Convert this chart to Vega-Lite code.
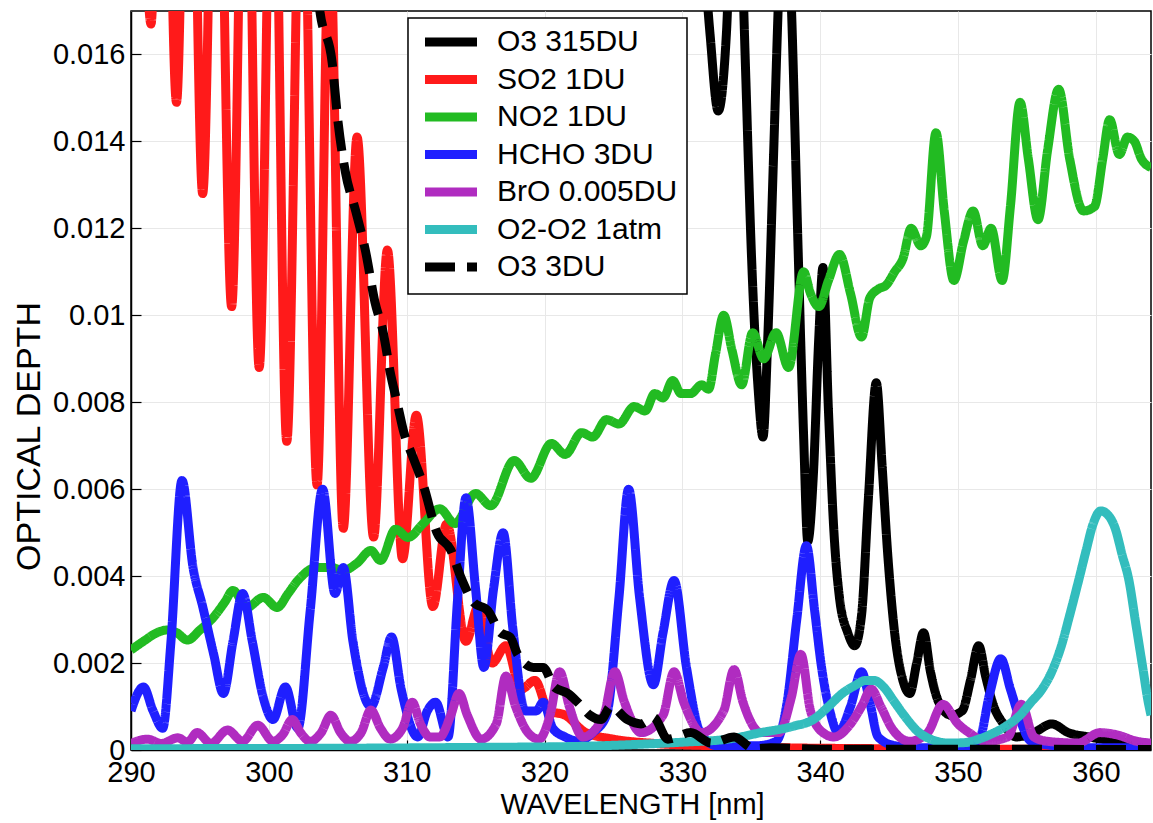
{
"$schema":"https://vega.github.io/schema/vega-lite/v6.json",
"width":1020,"height":739,
"autosize":{"type":"none"},
"padding":{"left":131,"top":11,"right":2,"bottom":73},
"data":{"values":[
{"s":"O3 315DU","x":290,"y":0.5},{"s":"O3 315DU","x":300,"y":0.2},{"s":"O3 315DU","x":310,"y":0.09},{"s":"O3 315DU","x":320,"y":0.045},{"s":"O3 315DU","x":326,"y":0.03},{"s":"O3 315DU","x":330,"y":0.022},{"s":"O3 315DU","x":331.5,"y":0.0185},{"s":"O3 315DU","x":332.0,"y":0.0165},{"s":"O3 315DU","x":332.6,"y":0.0147},{"s":"O3 315DU","x":333.2,"y":0.0165},{"s":"O3 315DU","x":333.8,"y":0.0215},{"s":"O3 315DU","x":334.2,"y":0.0195},{"s":"O3 315DU","x":334.6,"y":0.0155},{"s":"O3 315DU","x":335.0,"y":0.0115},{"s":"O3 315DU","x":335.5,"y":0.0083},{"s":"O3 315DU","x":335.85,"y":0.0072},{"s":"O3 315DU","x":336.2,"y":0.0095},{"s":"O3 315DU","x":336.6,"y":0.0135},{"s":"O3 315DU","x":337.0,"y":0.0175},{"s":"O3 315DU","x":337.4,"y":0.0205},{"s":"O3 315DU","x":337.9,"y":0.0172},{"s":"O3 315DU","x":338.4,"y":0.0115},{"s":"O3 315DU","x":338.8,"y":0.0072},{"s":"O3 315DU","x":339.1,"y":0.0048},{"s":"O3 315DU","x":339.5,"y":0.0063},{"s":"O3 315DU","x":339.9,"y":0.0095},{"s":"O3 315DU","x":340.2,"y":0.0111},{"s":"O3 315DU","x":340.6,"y":0.0078},{"s":"O3 315DU","x":341.0,"y":0.005},{"s":"O3 315DU","x":341.4,"y":0.0035},{"s":"O3 315DU","x":342.0,"y":0.0027},{"s":"O3 315DU","x":342.5,"y":0.0024},{"s":"O3 315DU","x":343.0,"y":0.0031},{"s":"O3 315DU","x":343.5,"y":0.0058},{"s":"O3 315DU","x":344.07,"y":0.00845},{"s":"O3 315DU","x":344.5,"y":0.0065},{"s":"O3 315DU","x":344.9,"y":0.0045},{"s":"O3 315DU","x":345.4,"y":0.0027},{"s":"O3 315DU","x":346.0,"y":0.0016},{"s":"O3 315DU","x":346.5,"y":0.0013},{"s":"O3 315DU","x":347.0,"y":0.002},{"s":"O3 315DU","x":347.5,"y":0.0027},{"s":"O3 315DU","x":348.0,"y":0.0018},{"s":"O3 315DU","x":348.6,"y":0.0011},{"s":"O3 315DU","x":349.5,"y":0.0008},{"s":"O3 315DU","x":350.3,"y":0.0009},{"s":"O3 315DU","x":350.9,"y":0.0016},{"s":"O3 315DU","x":351.5,"y":0.0024},{"s":"O3 315DU","x":352.0,"y":0.0017},{"s":"O3 315DU","x":352.6,"y":0.001},{"s":"O3 315DU","x":353.3,"y":0.0006},{"s":"O3 315DU","x":354.2,"y":0.0003},{"s":"O3 315DU","x":355.5,"y":0.0004},{"s":"O3 315DU","x":356.8,"y":0.0006},{"s":"O3 315DU","x":358.0,"y":0.0004},{"s":"O3 315DU","x":359.5,"y":0.0003},{"s":"O3 315DU","x":361.5,"y":0.0002},{"s":"O3 315DU","x":364,"y":0.00012},

{"s":"SO2 1DU","x":290,"y":0.026},{"s":"SO2 1DU","x":290.7,"y":0.022},{"s":"SO2 1DU","x":291.45,"y":0.0167},{"s":"SO2 1DU","x":292.3,"y":0.027},{"s":"SO2 1DU","x":293.3,"y":0.0149},{"s":"SO2 1DU","x":294.2,"y":0.026},{"s":"SO2 1DU","x":295.2,"y":0.0128},{"s":"SO2 1DU","x":296.2,"y":0.025},{"s":"SO2 1DU","x":297.3,"y":0.0102},{"s":"SO2 1DU","x":298.3,"y":0.024},{"s":"SO2 1DU","x":299.3,"y":0.0088},{"s":"SO2 1DU","x":300.3,"y":0.023},{"s":"SO2 1DU","x":301.3,"y":0.0071},{"s":"SO2 1DU","x":302.4,"y":0.022},{"s":"SO2 1DU","x":303.5,"y":0.0061},{"s":"SO2 1DU","x":304.4,"y":0.019},{"s":"SO2 1DU","x":305.4,"y":0.0051},{"s":"SO2 1DU","x":306.4,"y":0.0141},{"s":"SO2 1DU","x":307.6,"y":0.0049},{"s":"SO2 1DU","x":308.6,"y":0.0115},{"s":"SO2 1DU","x":309.7,"y":0.0044},{"s":"SO2 1DU","x":310.7,"y":0.0077},{"s":"SO2 1DU","x":311.9,"y":0.0033},{"s":"SO2 1DU","x":312.9,"y":0.0052},{"s":"SO2 1DU","x":314.3,"y":0.0025},{"s":"SO2 1DU","x":315.2,"y":0.0033},{"s":"SO2 1DU","x":316.2,"y":0.002},{"s":"SO2 1DU","x":317.2,"y":0.0024},{"s":"SO2 1DU","x":318.3,"y":0.0014},{"s":"SO2 1DU","x":319.3,"y":0.0016},{"s":"SO2 1DU","x":320.3,"y":0.0009},{"s":"SO2 1DU","x":321.5,"y":0.0008},{"s":"SO2 1DU","x":323,"y":0.0004},{"s":"SO2 1DU","x":325,"y":0.00025},{"s":"SO2 1DU","x":328,"y":0.00015},{"s":"SO2 1DU","x":332,"y":0.0001},{"s":"SO2 1DU","x":340,"y":0.00004},{"s":"SO2 1DU","x":364,"y":0.00001},

{"s":"NO2 1DU","x":290.0,"y":0.0023},{"s":"NO2 1DU","x":290.9,"y":0.0025},{"s":"NO2 1DU","x":291.9,"y":0.0027},{"s":"NO2 1DU","x":292.6,"y":0.00276},{"s":"NO2 1DU","x":293.3,"y":0.0027},{"s":"NO2 1DU","x":294.1,"y":0.00253},{"s":"NO2 1DU","x":295.0,"y":0.00276},{"s":"NO2 1DU","x":296.0,"y":0.00306},{"s":"NO2 1DU","x":296.8,"y":0.0034},{"s":"NO2 1DU","x":297.4,"y":0.00367},{"s":"NO2 1DU","x":298.4,"y":0.00328},{"s":"NO2 1DU","x":299.6,"y":0.00351},{"s":"NO2 1DU","x":300.6,"y":0.00328},{"s":"NO2 1DU","x":301.4,"y":0.0036},{"s":"NO2 1DU","x":302.1,"y":0.0039},{"s":"NO2 1DU","x":303.5,"y":0.0042},{"s":"NO2 1DU","x":304.5,"y":0.0042},{"s":"NO2 1DU","x":305.4,"y":0.00413},{"s":"NO2 1DU","x":306.4,"y":0.0043},{"s":"NO2 1DU","x":307.4,"y":0.00459},{"s":"NO2 1DU","x":308.1,"y":0.00436},{"s":"NO2 1DU","x":309.2,"y":0.00508},{"s":"NO2 1DU","x":310.1,"y":0.00489},{"s":"NO2 1DU","x":311.2,"y":0.00521},{"s":"NO2 1DU","x":312.4,"y":0.00555},{"s":"NO2 1DU","x":313.5,"y":0.00521},{"s":"NO2 1DU","x":315.0,"y":0.0059},{"s":"NO2 1DU","x":316.1,"y":0.00562},{"s":"NO2 1DU","x":317.8,"y":0.00666},{"s":"NO2 1DU","x":319.0,"y":0.00625},{"s":"NO2 1DU","x":320.5,"y":0.00705},{"s":"NO2 1DU","x":321.5,"y":0.0068},{"s":"NO2 1DU","x":322.7,"y":0.0073},{"s":"NO2 1DU","x":323.5,"y":0.0072},{"s":"NO2 1DU","x":324.5,"y":0.0076},{"s":"NO2 1DU","x":325.4,"y":0.0075},{"s":"NO2 1DU","x":326.5,"y":0.0079},{"s":"NO2 1DU","x":327.3,"y":0.0078},{"s":"NO2 1DU","x":328.0,"y":0.0082},{"s":"NO2 1DU","x":328.6,"y":0.0081},{"s":"NO2 1DU","x":329.3,"y":0.0085},{"s":"NO2 1DU","x":329.9,"y":0.0082},{"s":"NO2 1DU","x":330.6,"y":0.0082},{"s":"NO2 1DU","x":331.4,"y":0.0084},{"s":"NO2 1DU","x":331.9,"y":0.0083},{"s":"NO2 1DU","x":332.4,"y":0.0091},{"s":"NO2 1DU","x":333.0,"y":0.01},{"s":"NO2 1DU","x":333.6,"y":0.0092},{"s":"NO2 1DU","x":334.3,"y":0.0084},{"s":"NO2 1DU","x":335.1,"y":0.0096},{"s":"NO2 1DU","x":335.9,"y":0.009},{"s":"NO2 1DU","x":336.8,"y":0.0096},{"s":"NO2 1DU","x":337.7,"y":0.0088},{"s":"NO2 1DU","x":338.8,"y":0.011},{"s":"NO2 1DU","x":339.3,"y":0.0105},{"s":"NO2 1DU","x":339.9,"y":0.0102},{"s":"NO2 1DU","x":340.6,"y":0.0108},{"s":"NO2 1DU","x":341.4,"y":0.0114},{"s":"NO2 1DU","x":342.2,"y":0.0105},{"s":"NO2 1DU","x":343.0,"y":0.0095},{"s":"NO2 1DU","x":343.6,"y":0.0104},{"s":"NO2 1DU","x":344.2,"y":0.0106},{"s":"NO2 1DU","x":344.8,"y":0.0107},{"s":"NO2 1DU","x":345.4,"y":0.011},{"s":"NO2 1DU","x":346.0,"y":0.0113},{"s":"NO2 1DU","x":346.6,"y":0.012},{"s":"NO2 1DU","x":347.3,"y":0.0116},{"s":"NO2 1DU","x":347.7,"y":0.0118},{"s":"NO2 1DU","x":348.4,"y":0.0142},{"s":"NO2 1DU","x":349.0,"y":0.0124},{"s":"NO2 1DU","x":349.7,"y":0.0108},{"s":"NO2 1DU","x":350.4,"y":0.0117},{"s":"NO2 1DU","x":351.1,"y":0.0124},{"s":"NO2 1DU","x":351.8,"y":0.0116},{"s":"NO2 1DU","x":352.4,"y":0.012},{"s":"NO2 1DU","x":353.2,"y":0.0108},{"s":"NO2 1DU","x":353.8,"y":0.0125},{"s":"NO2 1DU","x":354.5,"y":0.0149},{"s":"NO2 1DU","x":355.1,"y":0.0136},{"s":"NO2 1DU","x":355.8,"y":0.0122},{"s":"NO2 1DU","x":356.5,"y":0.0138},{"s":"NO2 1DU","x":357.3,"y":0.0152},{"s":"NO2 1DU","x":358.1,"y":0.0136},{"s":"NO2 1DU","x":359.1,"y":0.0124},{"s":"NO2 1DU","x":359.9,"y":0.0125},{"s":"NO2 1DU","x":360.5,"y":0.0136},{"s":"NO2 1DU","x":361.0,"y":0.0145},{"s":"NO2 1DU","x":361.7,"y":0.0137},{"s":"NO2 1DU","x":362.3,"y":0.0141},{"s":"NO2 1DU","x":362.8,"y":0.014},{"s":"NO2 1DU","x":363.3,"y":0.0136},{"s":"NO2 1DU","x":364.0,"y":0.0134},

{"s":"HCHO 3DU","x":290.0,"y":0.0009},{"s":"HCHO 3DU","x":290.9,"y":0.00145},{"s":"HCHO 3DU","x":291.6,"y":0.0009},{"s":"HCHO 3DU","x":292.3,"y":0.0005},{"s":"HCHO 3DU","x":292.9,"y":0.0025},{"s":"HCHO 3DU","x":293.7,"y":0.0062},{"s":"HCHO 3DU","x":294.5,"y":0.0042},{"s":"HCHO 3DU","x":295.2,"y":0.0033},{"s":"HCHO 3DU","x":296.0,"y":0.0022},{"s":"HCHO 3DU","x":296.7,"y":0.0013},{"s":"HCHO 3DU","x":297.4,"y":0.0025},{"s":"HCHO 3DU","x":298.1,"y":0.0036},{"s":"HCHO 3DU","x":298.8,"y":0.0025},{"s":"HCHO 3DU","x":299.6,"y":0.0012},{"s":"HCHO 3DU","x":300.3,"y":0.0007},{"s":"HCHO 3DU","x":301.2,"y":0.00145},{"s":"HCHO 3DU","x":302.1,"y":0.0005},{"s":"HCHO 3DU","x":303.0,"y":0.0032},{"s":"HCHO 3DU","x":303.9,"y":0.006},{"s":"HCHO 3DU","x":304.8,"y":0.0036},{"s":"HCHO 3DU","x":305.4,"y":0.0042},{"s":"HCHO 3DU","x":306.1,"y":0.0025},{"s":"HCHO 3DU","x":307.4,"y":0.001},{"s":"HCHO 3DU","x":308.3,"y":0.0019},{"s":"HCHO 3DU","x":308.9,"y":0.0026},{"s":"HCHO 3DU","x":309.6,"y":0.0014},{"s":"HCHO 3DU","x":310.8,"y":0.0003},{"s":"HCHO 3DU","x":311.5,"y":0.0009},{"s":"HCHO 3DU","x":312.1,"y":0.0011},{"s":"HCHO 3DU","x":313.0,"y":0.0003},{"s":"HCHO 3DU","x":313.7,"y":0.0035},{"s":"HCHO 3DU","x":314.3,"y":0.0058},{"s":"HCHO 3DU","x":315.0,"y":0.0037},{"s":"HCHO 3DU","x":315.6,"y":0.0019},{"s":"HCHO 3DU","x":316.3,"y":0.0037},{"s":"HCHO 3DU","x":317.0,"y":0.005},{"s":"HCHO 3DU","x":317.7,"y":0.0028},{"s":"HCHO 3DU","x":318.6,"y":0.0009},{"s":"HCHO 3DU","x":319.4,"y":0.0009},{"s":"HCHO 3DU","x":319.9,"y":0.0011},{"s":"HCHO 3DU","x":320.6,"y":0.0005},{"s":"HCHO 3DU","x":321.5,"y":0.0003},{"s":"HCHO 3DU","x":322.5,"y":0.0002},{"s":"HCHO 3DU","x":323.5,"y":0.0004},{"s":"HCHO 3DU","x":324.5,"y":0.0008},{"s":"HCHO 3DU","x":325.4,"y":0.0035},{"s":"HCHO 3DU","x":326.1,"y":0.006},{"s":"HCHO 3DU","x":326.9,"y":0.0035},{"s":"HCHO 3DU","x":327.9,"y":0.0015},{"s":"HCHO 3DU","x":328.6,"y":0.0027},{"s":"HCHO 3DU","x":329.4,"y":0.0039},{"s":"HCHO 3DU","x":330.3,"y":0.0019},{"s":"HCHO 3DU","x":331.3,"y":0.0004},{"s":"HCHO 3DU","x":332.5,"y":0.0001},{"s":"HCHO 3DU","x":334,"y":0.0001},{"s":"HCHO 3DU","x":335.5,"y":0.0001},{"s":"HCHO 3DU","x":336.8,"y":0.0002},{"s":"HCHO 3DU","x":337.6,"y":0.0011},{"s":"HCHO 3DU","x":338.3,"y":0.003},{"s":"HCHO 3DU","x":339.0,"y":0.0047},{"s":"HCHO 3DU","x":339.6,"y":0.0032},{"s":"HCHO 3DU","x":340.1,"y":0.0019},{"s":"HCHO 3DU","x":340.7,"y":0.0009},{"s":"HCHO 3DU","x":341.3,"y":0.0004},{"s":"HCHO 3DU","x":342.2,"y":0.001},{"s":"HCHO 3DU","x":343.0,"y":0.0018},{"s":"HCHO 3DU","x":343.6,"y":0.0011},{"s":"HCHO 3DU","x":344.2,"y":0.0003},{"s":"HCHO 3DU","x":345.4,"y":0.0001},{"s":"HCHO 3DU","x":347,"y":0.00005},{"s":"HCHO 3DU","x":350,"y":0.00005},{"s":"HCHO 3DU","x":351.5,"y":0.0002},{"s":"HCHO 3DU","x":352.3,"y":0.0013},{"s":"HCHO 3DU","x":353.1,"y":0.0021},{"s":"HCHO 3DU","x":353.8,"y":0.0014},{"s":"HCHO 3DU","x":354.5,"y":0.0007},{"s":"HCHO 3DU","x":355.3,"y":0.0002},{"s":"HCHO 3DU","x":357,"y":0.0001},{"s":"HCHO 3DU","x":360,"y":0.00005},{"s":"HCHO 3DU","x":364,"y":0.00005},

{"s":"BrO 0.005DU","x":290.0,"y":0.00015},{"s":"BrO 0.005DU","x":291.2,"y":0.00025},{"s":"BrO 0.005DU","x":292.2,"y":0.00015},{"s":"BrO 0.005DU","x":293.4,"y":0.00028},{"s":"BrO 0.005DU","x":294.1,"y":0.00018},{"s":"BrO 0.005DU","x":294.8,"y":0.0004},{"s":"BrO 0.005DU","x":295.8,"y":0.00015},{"s":"BrO 0.005DU","x":297.0,"y":0.00046},{"s":"BrO 0.005DU","x":298.1,"y":0.0002},{"s":"BrO 0.005DU","x":299.2,"y":0.00057},{"s":"BrO 0.005DU","x":300.3,"y":0.0002},{"s":"BrO 0.005DU","x":301.0,"y":0.00035},{"s":"BrO 0.005DU","x":301.7,"y":0.0007},{"s":"BrO 0.005DU","x":302.3,"y":0.0004},{"s":"BrO 0.005DU","x":303.0,"y":0.0002},{"s":"BrO 0.005DU","x":303.8,"y":0.0004},{"s":"BrO 0.005DU","x":304.5,"y":0.0008},{"s":"BrO 0.005DU","x":305.2,"y":0.0004},{"s":"BrO 0.005DU","x":305.9,"y":0.0002},{"s":"BrO 0.005DU","x":306.7,"y":0.0004},{"s":"BrO 0.005DU","x":307.4,"y":0.00092},{"s":"BrO 0.005DU","x":308.1,"y":0.0005},{"s":"BrO 0.005DU","x":308.8,"y":0.00025},{"s":"BrO 0.005DU","x":309.7,"y":0.0005},{"s":"BrO 0.005DU","x":310.4,"y":0.0011},{"s":"BrO 0.005DU","x":311.0,"y":0.0006},{"s":"BrO 0.005DU","x":311.7,"y":0.0003},{"s":"BrO 0.005DU","x":312.4,"y":0.0003},{"s":"BrO 0.005DU","x":313.2,"y":0.0008},{"s":"BrO 0.005DU","x":313.8,"y":0.0013},{"s":"BrO 0.005DU","x":314.4,"y":0.0008},{"s":"BrO 0.005DU","x":315.4,"y":0.00025},{"s":"BrO 0.005DU","x":316.5,"y":0.0006},{"s":"BrO 0.005DU","x":317.2,"y":0.0017},{"s":"BrO 0.005DU","x":317.9,"y":0.001},{"s":"BrO 0.005DU","x":318.8,"y":0.0004},{"s":"BrO 0.005DU","x":319.6,"y":0.00025},{"s":"BrO 0.005DU","x":320.4,"y":0.0008},{"s":"BrO 0.005DU","x":321.1,"y":0.0018},{"s":"BrO 0.005DU","x":321.8,"y":0.001},{"s":"BrO 0.005DU","x":322.8,"y":0.0003},{"s":"BrO 0.005DU","x":324.3,"y":0.0008},{"s":"BrO 0.005DU","x":325.1,"y":0.0018},{"s":"BrO 0.005DU","x":325.8,"y":0.0011},{"s":"BrO 0.005DU","x":327.0,"y":0.0004},{"s":"BrO 0.005DU","x":328.6,"y":0.0008},{"s":"BrO 0.005DU","x":329.4,"y":0.0018},{"s":"BrO 0.005DU","x":330.1,"y":0.0011},{"s":"BrO 0.005DU","x":331.4,"y":0.0004},{"s":"BrO 0.005DU","x":333.0,"y":0.0009},{"s":"BrO 0.005DU","x":333.75,"y":0.00185},{"s":"BrO 0.005DU","x":334.4,"y":0.0011},{"s":"BrO 0.005DU","x":335.7,"y":0.0004},{"s":"BrO 0.005DU","x":337.0,"y":0.0004},{"s":"BrO 0.005DU","x":337.9,"y":0.0012},{"s":"BrO 0.005DU","x":338.6,"y":0.0022},{"s":"BrO 0.005DU","x":339.3,"y":0.0009},{"s":"BrO 0.005DU","x":340.2,"y":0.0004},{"s":"BrO 0.005DU","x":341.0,"y":0.0003},{"s":"BrO 0.005DU","x":342.2,"y":0.0006},{"s":"BrO 0.005DU","x":343.0,"y":0.001},{"s":"BrO 0.005DU","x":343.7,"y":0.0014},{"s":"BrO 0.005DU","x":344.4,"y":0.001},{"s":"BrO 0.005DU","x":345.2,"y":0.0005},{"s":"BrO 0.005DU","x":346.5,"y":0.0002},{"s":"BrO 0.005DU","x":347.8,"y":0.0004},{"s":"BrO 0.005DU","x":348.9,"y":0.00105},{"s":"BrO 0.005DU","x":350.0,"y":0.0006},{"s":"BrO 0.005DU","x":350.8,"y":0.0004},{"s":"BrO 0.005DU","x":352.0,"y":0.0002},{"s":"BrO 0.005DU","x":353.6,"y":0.0003},{"s":"BrO 0.005DU","x":354.6,"y":0.00105},{"s":"BrO 0.005DU","x":355.5,"y":0.0003},{"s":"BrO 0.005DU","x":356.5,"y":0.0002},{"s":"BrO 0.005DU","x":358.7,"y":0.00016},{"s":"BrO 0.005DU","x":360.3,"y":0.0004},{"s":"BrO 0.005DU","x":361.5,"y":0.00035},{"s":"BrO 0.005DU","x":363.0,"y":0.0002},{"s":"BrO 0.005DU","x":364.0,"y":0.00016},

{"s":"O2-O2 1atm","x":290,"y":0.00003},{"s":"O2-O2 1atm","x":305,"y":0.00004},{"s":"O2-O2 1atm","x":315,"y":0.00006},{"s":"O2-O2 1atm","x":322,"y":0.00008},{"s":"O2-O2 1atm","x":326,"y":0.00012},{"s":"O2-O2 1atm","x":330,"y":0.00018},{"s":"O2-O2 1atm","x":333.3,"y":0.00025},{"s":"O2-O2 1atm","x":335.7,"y":0.0004},{"s":"O2-O2 1atm","x":338.1,"y":0.00055},{"s":"O2-O2 1atm","x":339.5,"y":0.0007},{"s":"O2-O2 1atm","x":340.6,"y":0.001},{"s":"O2-O2 1atm","x":341.6,"y":0.0013},{"s":"O2-O2 1atm","x":342.5,"y":0.00148},{"s":"O2-O2 1atm","x":343.3,"y":0.0016},{"s":"O2-O2 1atm","x":343.9,"y":0.0016},{"s":"O2-O2 1atm","x":344.6,"y":0.00145},{"s":"O2-O2 1atm","x":345.4,"y":0.0011},{"s":"O2-O2 1atm","x":346.2,"y":0.00075},{"s":"O2-O2 1atm","x":347.0,"y":0.00045},{"s":"O2-O2 1atm","x":348.0,"y":0.00025},{"s":"O2-O2 1atm","x":349.3,"y":0.00016},{"s":"O2-O2 1atm","x":350.5,"y":0.00017},{"s":"O2-O2 1atm","x":351.5,"y":0.00025},{"s":"O2-O2 1atm","x":352.5,"y":0.00038},{"s":"O2-O2 1atm","x":353.5,"y":0.00055},{"s":"O2-O2 1atm","x":354.5,"y":0.0008},{"s":"O2-O2 1atm","x":355.3,"y":0.0011},{"s":"O2-O2 1atm","x":356.1,"y":0.0014},{"s":"O2-O2 1atm","x":356.8,"y":0.0018},{"s":"O2-O2 1atm","x":357.5,"y":0.0024},{"s":"O2-O2 1atm","x":358.1,"y":0.0031},{"s":"O2-O2 1atm","x":358.75,"y":0.0039},{"s":"O2-O2 1atm","x":359.3,"y":0.0046},{"s":"O2-O2 1atm","x":359.8,"y":0.0052},{"s":"O2-O2 1atm","x":360.35,"y":0.0055},{"s":"O2-O2 1atm","x":360.9,"y":0.0054},{"s":"O2-O2 1atm","x":361.4,"y":0.0051},{"s":"O2-O2 1atm","x":361.9,"y":0.0045},{"s":"O2-O2 1atm","x":362.4,"y":0.0039},{"s":"O2-O2 1atm","x":362.9,"y":0.0029},{"s":"O2-O2 1atm","x":363.4,"y":0.0019},{"s":"O2-O2 1atm","x":363.8,"y":0.0011},{"s":"O2-O2 1atm","x":364.0,"y":0.0008},

{"s":"O3 3DU","x":290,"y":0.045},{"s":"O3 3DU","x":295,"y":0.035},{"s":"O3 3DU","x":300,"y":0.026},{"s":"O3 3DU","x":302,"y":0.0215},{"s":"O3 3DU","x":303,"y":0.0192},{"s":"O3 3DU","x":303.7,"y":0.017},{"s":"O3 3DU","x":304.6,"y":0.0158},{"s":"O3 3DU","x":305.0,"y":0.0145},{"s":"O3 3DU","x":305.55,"y":0.0133},{"s":"O3 3DU","x":306.3,"y":0.0124},{"s":"O3 3DU","x":307.0,"y":0.0115},{"s":"O3 3DU","x":307.7,"y":0.0103},{"s":"O3 3DU","x":308.3,"y":0.0096},{"s":"O3 3DU","x":308.8,"y":0.0087},{"s":"O3 3DU","x":309.3,"y":0.008},{"s":"O3 3DU","x":309.8,"y":0.0073},{"s":"O3 3DU","x":310.5,"y":0.0067},{"s":"O3 3DU","x":311.2,"y":0.0061},{"s":"O3 3DU","x":312.2,"y":0.005},{"s":"O3 3DU","x":313.2,"y":0.0046},{"s":"O3 3DU","x":313.9,"y":0.004},{"s":"O3 3DU","x":314.85,"y":0.0034},{"s":"O3 3DU","x":315.9,"y":0.0032},{"s":"O3 3DU","x":316.8,"y":0.0027},{"s":"O3 3DU","x":317.5,"y":0.0026},{"s":"O3 3DU","x":318.05,"y":0.0022},{"s":"O3 3DU","x":319.2,"y":0.0019},{"s":"O3 3DU","x":319.9,"y":0.0019},{"s":"O3 3DU","x":320.7,"y":0.00145},{"s":"O3 3DU","x":321.7,"y":0.0013},{"s":"O3 3DU","x":322.4,"y":0.0011},{"s":"O3 3DU","x":323.3,"y":0.0008},{"s":"O3 3DU","x":324.1,"y":0.0007},{"s":"O3 3DU","x":324.8,"y":0.001},{"s":"O3 3DU","x":326.0,"y":0.0007},{"s":"O3 3DU","x":327.0,"y":0.0006},{"s":"O3 3DU","x":327.9,"y":0.00075},{"s":"O3 3DU","x":328.95,"y":0.00025},{"s":"O3 3DU","x":330.6,"y":0.0004},{"s":"O3 3DU","x":332.1,"y":0.00016},{"s":"O3 3DU","x":333.75,"y":0.0003},{"s":"O3 3DU","x":335.2,"y":0.00003},{"s":"O3 3DU","x":336.4,"y":0.00005},{"s":"O3 3DU","x":340,"y":0.00002},{"s":"O3 3DU","x":345,"y":0.00002},{"s":"O3 3DU","x":364,"y":0.00001}
]},
"encoding":{
 "x":{"field":"x","type":"quantitative","scale":{"domain":[290,364],"nice":false,"zero":false},
  "axis":{"title":"WAVELENGTH [nm]","values":[290,300,310,320,330,340,350,360],"labelFlush":false,"grid":true,"tickSize":-10,"labelPadding":18,"titleBaseline":"alphabetic","titleY":63,"titleX":501}},
 "y":{"field":"y","type":"quantitative","scale":{"domain":[0,0.017],"nice":false,"zero":false},
  "axis":{"title":"OPTICAL DEPTH","values":[0,0.002,0.004,0.006,0.008,0.01,0.012,0.014,0.016],"format":"~g","grid":true,"tickSize":-10,"labelPadding":16,"titleFontSize":34,"titleBaseline":"alphabetic","titleX":-92,"titleY":425}},
 "color":{"field":"s","type":"nominal","scale":{"domain":["O3 315DU","SO2 1DU","NO2 1DU","HCHO 3DU","BrO 0.005DU","O2-O2 1atm","O3 3DU"],"range":["#000000","#ff1a1a","#22bb22","#1f1fff","#b02cc0","#33bdbd","#000000"]},"legend":{"title":null}},
 "strokeDash":{"field":"s","type":"nominal","scale":{"domain":["O3 315DU","SO2 1DU","NO2 1DU","HCHO 3DU","BrO 0.005DU","O2-O2 1atm","O3 3DU"],"range":[[1,0],[1,0],[1,0],[1,0],[1,0],[1,0],[30,12]]},"legend":{"title":null}}
},
"layer":[
 {"transform":[{"filter":{"field":"s","equal":"O3 315DU"}}],"mark":{"type":"line","clip":true,"strokeWidth":9,"interpolate":"monotone","strokeCap":"butt","strokeJoin":"round"}},
 {"transform":[{"filter":{"field":"s","equal":"SO2 1DU"}}],"mark":{"type":"line","clip":true,"strokeWidth":9,"interpolate":"monotone","strokeCap":"butt","strokeJoin":"round"}},
 {"transform":[{"filter":{"field":"s","equal":"NO2 1DU"}}],"mark":{"type":"line","clip":true,"strokeWidth":9,"interpolate":"monotone","strokeCap":"butt","strokeJoin":"round"}},
 {"transform":[{"filter":{"field":"s","equal":"HCHO 3DU"}}],"mark":{"type":"line","clip":true,"strokeWidth":9,"interpolate":"monotone","strokeCap":"butt","strokeJoin":"round"}},
 {"transform":[{"filter":{"field":"s","equal":"BrO 0.005DU"}}],"mark":{"type":"line","clip":true,"strokeWidth":9,"interpolate":"monotone","strokeCap":"butt","strokeJoin":"round"}},
 {"transform":[{"filter":{"field":"s","equal":"O2-O2 1atm"}}],"mark":{"type":"line","clip":true,"strokeWidth":9,"interpolate":"monotone","strokeCap":"butt","strokeJoin":"round"}},
 {"transform":[{"filter":{"field":"s","equal":"O3 3DU"}}],"mark":{"type":"line","clip":true,"strokeWidth":9,"interpolate":"monotone","strokeCap":"butt","strokeJoin":"round"}}
],
"config":{
 "font":"Liberation Sans",
 "view":{"stroke":"#000000","strokeWidth":1.5},
 "axis":{"labelFontSize":29,"titleFontSize":29,"labelColor":"#000","titleColor":"#000","titleFontWeight":"normal","labelFont":"Liberation Sans","titleFont":"Liberation Sans","domainColor":"#000","domainWidth":1.5,"tickColor":"#000","tickWidth":1.2,"gridColor":"#e8e8e8","gridWidth":1},
 "legend":{"orient":"none","legendX":277,"legendY":7,"padding":9,"fillColor":"#ffffff","strokeColor":"#000000","strokeWidth":1.5,"labelFontSize":30,"labelColor":"#000","labelFont":"Liberation Sans","symbolType":"M-0.7,0H4.5","symbolSize":400,"symbolStrokeWidth":9,"labelOffset":50,"rowPadding":1.5,"labelLimit":400}
}
}
